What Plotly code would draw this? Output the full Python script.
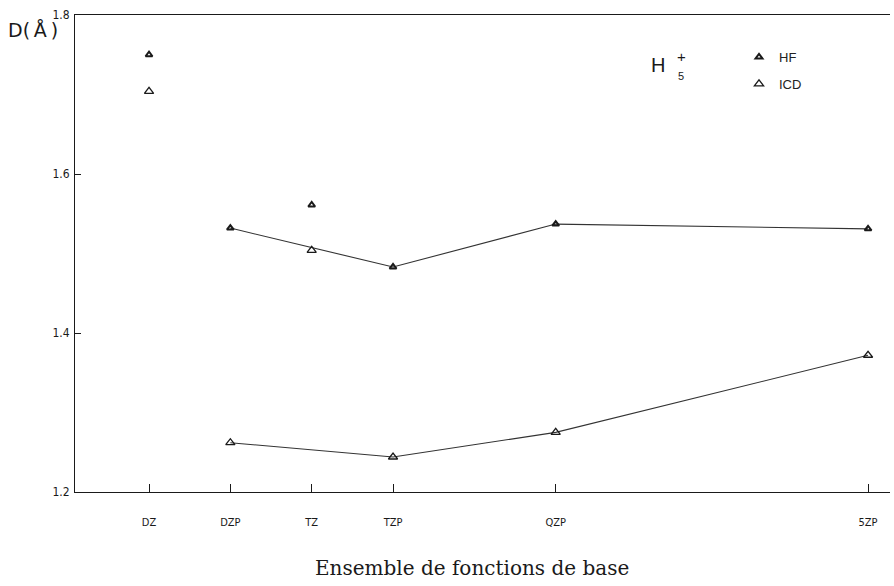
import plotly.graph_objects as go

# ---- data ----
bases = ["DZ", "DZP", "TZ", "TZP", "QZP", "5ZP"]
base_pos = [0, 1, 2, 3, 5, 8.84]          # horizontal placement of each basis set on the axis
hf = [1.750, 1.532, 1.561, 1.483, 1.537, 1.531]
icd = [1.704, 1.262, 1.504, 1.244, 1.275, 1.372]
polarized = ["DZP", "TZP", "QZP", "5ZP"]  # joined by lines
y_ticks = [1.2, 1.4, 1.6, 1.8]
y_tick_labels = ["1.2", "1.4", "1.6", "1.8"]

pos = dict(zip(bases, base_pos))
hf_map = dict(zip(bases, hf))
icd_map = dict(zip(bases, icd))

ink = "#1a1a1a"
fig = go.Figure()

# connecting lines (polarized bases only)
for m in (hf_map, icd_map):
    fig.add_trace(go.Scatter(
        x=[pos[b] for b in polarized], y=[m[b] for b in polarized],
        mode="lines", line=dict(color="#333", width=1.1),
        showlegend=False, hoverinfo="skip"))

fig.add_trace(go.Scatter(
    x=base_pos, y=hf, mode="markers", name="HF", legendgroup="a",
    marker=dict(symbol="triangle-up-open", size=6, color=ink, line=dict(width=2, color=ink))))
fig.add_trace(go.Scatter(
    x=base_pos, y=icd, mode="markers", name="ICD", legendgroup="b",
    marker=dict(symbol="triangle-up-open", size=8, color=ink, line=dict(width=1.3, color=ink))))

W, H = 894, 586
ml, mr, mt, mb = 75, 4, 15, 94
pw, ph = W - ml - mr, H - mt - mb

def px(x):
    return (x - ml) / pw

def py(y):
    return (H - mb - y) / ph

fig.update_layout(
    width=W, height=H,
    margin=dict(l=ml, r=mr, t=mt, b=mb),
    paper_bgcolor="white", plot_bgcolor="white",
    font=dict(family="DejaVu Sans Condensed, Liberation Sans, sans-serif", color=ink, size=10),
    showlegend=True,
    legend=dict(x=px(739), y=py(42), xanchor="left", yanchor="top",
                font=dict(size=13, family="Liberation Sans, sans-serif", color="#222"),
                tracegroupgap=7, bgcolor="rgba(0,0,0,0)", borderwidth=0),
    xaxis=dict(range=[-0.91, 9.11], tickvals=base_pos, ticktext=bases,
               showgrid=False, zeroline=False, showline=True, linecolor=ink, linewidth=1,
               mirror=True, ticks="inside", ticklen=8, tickwidth=1, tickcolor=ink,
               ticklabelstandoff=20, tickfont=dict(size=11)),
    yaxis=dict(range=[1.2, 1.8], tickvals=y_ticks, ticktext=y_tick_labels,
               showgrid=False, zeroline=False, showline=True, linecolor=ink, linewidth=1,
               mirror=False, ticks="inside", ticklen=6, tickwidth=1, tickcolor=ink,
               ticklabelstandoff=2, tickfont=dict(size=12)),
    annotations=[
        dict(text="D(\u2009Å\u2009)", xref="paper", yref="paper", x=px(60), y=py(30),
             xanchor="right", yanchor="middle", showarrow=False,
             font=dict(size=19, family="DejaVu Sans, sans-serif", color=ink)),
        dict(text="Ensemble de fonctions de base", xref="paper", yref="paper",
             x=px(472), y=py(568), xanchor="center", yanchor="middle", showarrow=False,
             font=dict(size=20, family="DejaVu Serif, Liberation Serif, serif", color=ink)),
        dict(text="H", xref="paper", yref="paper", x=px(658), y=py(65),
             xanchor="center", yanchor="middle", showarrow=False,
             font=dict(size=20, family="Liberation Sans, sans-serif", color=ink)),
        dict(text="+", xref="paper", yref="paper", x=px(681), y=py(56),
             xanchor="center", yanchor="middle", showarrow=False,
             font=dict(size=15, family="Liberation Sans, sans-serif", color=ink)),
        dict(text="5", xref="paper", yref="paper", x=px(681), y=py(76),
             xanchor="center", yanchor="middle", showarrow=False,
             font=dict(size=11, family="Liberation Sans, sans-serif", color=ink)),
    ],
)

fig.write_html("out.html", config={"displayModeBar": False},
               post_script="document.body.style.margin='0';")
